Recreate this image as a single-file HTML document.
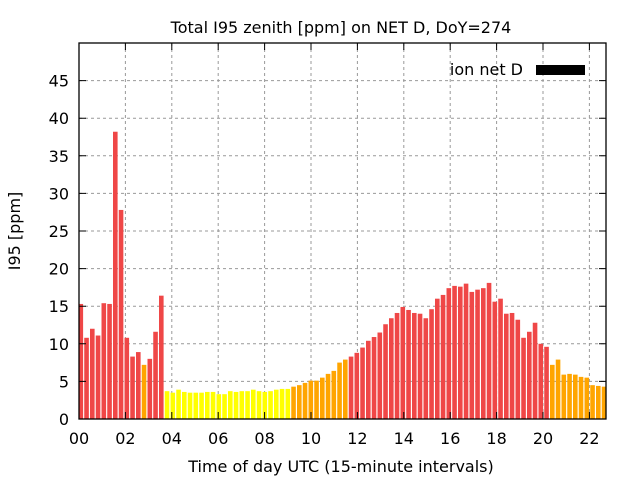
<!DOCTYPE html>
<html><head><meta charset="utf-8"><style>
body{margin:0;background:#fff}
svg text{font-family:"DejaVu Sans","Liberation Sans",sans-serif;fill:#000}
</style></head><body>
<svg id="chart" width="640" height="480" xmlns="http://www.w3.org/2000/svg">
<rect width="640" height="480" fill="#fff"/>
<text x="341" y="33" font-size="16" text-anchor="middle">Total I95 zenith [ppm] on NET D, DoY=274</text>
<text x="0" y="0" font-size="16" text-anchor="middle" transform="translate(20,231) rotate(-90)">I95 [ppm]</text>
<text x="341" y="472" font-size="16" text-anchor="middle">Time of day UTC (15-minute intervals)</text>
<defs><clipPath id="pc"><rect x="79" y="43" width="527" height="376"/></clipPath></defs>
<g id="grid"></g>
<g id="bars" clip-path="url(#pc)"></g>
<g id="axes"></g>
<text x="523" y="75" font-size="16" text-anchor="end">ion net D</text>
<rect x="536" y="65" width="49" height="10" fill="#000"/>
</svg>
<script>
const values = [15.3,10.8,12.0,11.1,15.4,15.3,38.2,27.8,10.8,8.3,8.9,7.2,8.0,11.6,16.4,
3.7,3.5,3.9,3.6,3.5,3.5,3.5,3.6,3.6,3.3,3.3,3.7,3.6,3.7,3.7,3.9,3.7,3.6,3.7,3.9,4.0,4.0,
4.3,4.5,4.8,5.1,5.1,5.5,6.0,6.4,7.5,7.9,
8.3,8.8,9.5,10.4,10.9,11.5,12.6,13.4,14.1,14.9,14.5,14.1,14.0,13.4,14.6,16.0,16.5,17.4,17.7,17.6,18.0,
16.9,17.2,17.4,18.1,15.6,16.0,14.0,14.1,13.2,10.8,11.6,12.8,10.0,9.6,
7.2,7.9,5.9,6.0,5.9,5.6,5.5,4.5,4.4,4.3];
const yTicks = [0,5,10,15,20,25,30,35,40,45];
const xTickHours = [0,2,4,6,8,10,12,14,16,18,20,22];
const xTickLabels = ["00","02","04","06","08","10","12","14","16","18","20","22"];
const NS="http://www.w3.org/2000/svg";
const L=79,R=606,T=43,B=419,PXH=23.2,YMAX=50,BARPXH=23.0;
const xs=h=>L+h*PXH;
const xb=h=>L+h*BARPXH;
const ys=v=>B-(v/YMAX)*(B-T);
function mk(tag,attrs,parent){const e=document.createElementNS(NS,tag);for(const k in attrs)e.setAttribute(k,attrs[k]);parent.appendChild(e);return e;}
const grid=document.getElementById('grid'),bars=document.getElementById('bars'),axes=document.getElementById('axes');
yTicks.forEach((t,i)=>{
  const y=ys(t);
  if(t>0){const g=mk('line',{x1:L,x2:R,y1:y,y2:y,stroke:'#999','stroke-dasharray':'3,3','stroke-width':1},grid);
  
  }
  const tk=mk('path',{d:`M${L},${y}h7M${R},${y}h-7`,stroke:'#000','stroke-width':1},axes);
  
  
  const tx=mk('text',{x:L-10,y:y+6,'font-size':16,'text-anchor':'end'},axes);
  tx.textContent=t;
  
  
});
xTickHours.forEach((h,i)=>{
  const x=xs(h);
  if(h>0){const g=mk('line',{x1:x,x2:x,y1:T,y2:B,stroke:'#999','stroke-dasharray':'3,3','stroke-width':1},grid);
  
  }
  const tk=mk('path',{d:`M${x},${B}v-7M${x},${T}v7`,stroke:'#000','stroke-width':1},axes);
  
  
  const tx=mk('text',{x:x,y:B+25,'font-size':16,'text-anchor':'middle'},axes);
  tx.textContent=xTickLabels[i];
  
  
});
const pitch=xb(0.25)-xb(0);
values.forEach((v,i)=>{
  const c=v>=8?'#ef4747':(v>=4.2?'#ffa500':'#ffff00');
  const x=xb(i*0.25)-0.5;
  const w=pitch*0.8;
  const b=mk('rect',{x:x,y:ys(v),width:w,height:B-ys(v),fill:c},bars);
  
  
});
const fr=mk('rect',{x:L,y:T,width:R-L,height:B-T,fill:'none',stroke:'#000','stroke-width':1.3},axes);


</script>
</body></html>
